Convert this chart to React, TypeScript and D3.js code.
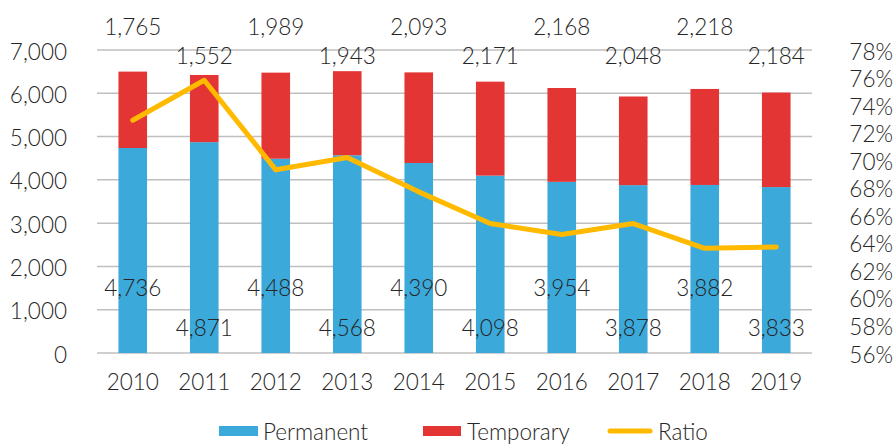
import React from "react";
import * as d3 from "d3";

const years = ["2010","2011","2012","2013","2014","2015","2016","2017","2018","2019"];
const permanent = [4736, 4871, 4488, 4568, 4390, 4098, 3954, 3878, 3882, 3833];
const temporary = [1765, 1552, 1989, 1943, 2093, 2171, 2168, 2048, 2218, 2184];
const ratio = [0.729, 0.758, 0.693, 0.702, 0.677, 0.654, 0.646, 0.654, 0.636, 0.637];
const leftTicks = [0, 1000, 2000, 3000, 4000, 5000, 6000, 7000];
const rightTicks = [0.56, 0.58, 0.6, 0.62, 0.64, 0.66, 0.68, 0.7, 0.72, 0.74, 0.76, 0.78];

const W = 896, H = 444;
const FONT = "Lato, 'Open Sans', sans-serif";
const FS = 22.5;
const BLUE = "#3CA9DB";
const RED = "#E43535";
const YELLOW = "#FFBA00";
const TXT = "#262626";

export default function App() {
  const x = d3.scaleBand<string>().domain(years).range([97, 812]).paddingInner(0.6).paddingOuter(0.3);
  const y = d3.scaleLinear().domain([0, 7000]).range([353, 50]);
  const yr = d3.scaleLinear().domain([0.56, 0.78]).range([353, 50]);
  const fmt = d3.format(",");
  const pct = d3.format(".0%");
  const cx = (yv: string) => (x(yv) ?? 0) + x.bandwidth() / 2;
  const line = d3.line<number>().x((_, i) => cx(years[i])).y((d) => yr(d));

  return (
    <svg width={W} height={H} style={{ position: "absolute", left: 0, top: 0, background: "#fff" }} fontFamily={FONT} fontWeight={300}>
      {leftTicks.map((t) => (
        <line key={"g" + t} x1={97} x2={812} y1={y(t)} y2={y(t)} stroke="#BFBFBF" strokeWidth={1.5} />
      ))}
      {leftTicks.map((t) => (
        <text key={"l" + t} x={67} y={y(t) + 1} textAnchor="end" dominantBaseline="central" fontSize={FS} fill={TXT}>
          {fmt(t)}
        </text>
      ))}
      {rightTicks.map((t) => (
        <text key={"r" + t} x={893} y={yr(t) + 1} textAnchor="end" dominantBaseline="central" fontSize={FS} fill={TXT}>
          {pct(t)}
        </text>
      ))}
      {years.map((yv, i) => (
        <g key={yv}>
          <rect x={x(yv)} width={x.bandwidth()} y={y(permanent[i])} height={y(0) - y(permanent[i])} fill={BLUE} />
          <rect x={x(yv)} width={x.bandwidth()} y={y(permanent[i] + temporary[i])} height={y(0) - y(temporary[i])} fill={RED} />
          <text x={cx(yv)} y={381} textAnchor="middle" dominantBaseline="central" fontSize={FS} fill={TXT}>{yv}</text>
        </g>
      ))}
      <path d={line(ratio) ?? ""} fill="none" stroke={YELLOW} strokeWidth={5} strokeLinejoin="round" strokeLinecap="round" />
      {years.map((yv, i) => (
        <g key={"lab" + yv}>
          <text x={cx(yv)} y={i % 2 === 0 ? 26 : 55} textAnchor="middle" dominantBaseline="central" fontSize={FS} fill={TXT}>
            {fmt(temporary[i])}
          </text>
          <text x={cx(yv)} y={i % 2 === 0 ? 287 : 327} textAnchor="middle" dominantBaseline="central" fontSize={FS} fill={TXT}>
            {fmt(permanent[i])}
          </text>
        </g>
      ))}
      <g fontSize={FS} fill={TXT}>
        <rect x={219} y={426} width={39} height={10} fill={BLUE} />
        <text x={263} y={431} dominantBaseline="central">Permanent</text>
        <rect x={423} y={426} width={38} height={10} fill={RED} />
        <text x={467} y={431} dominantBaseline="central">Temporary</text>
        <line x1={610} x2={650} y1={431} y2={431} stroke={YELLOW} strokeWidth={5} strokeLinecap="round" />
        <text x={658} y={431} dominantBaseline="central">Ratio</text>
      </g>
    </svg>
  );
}
